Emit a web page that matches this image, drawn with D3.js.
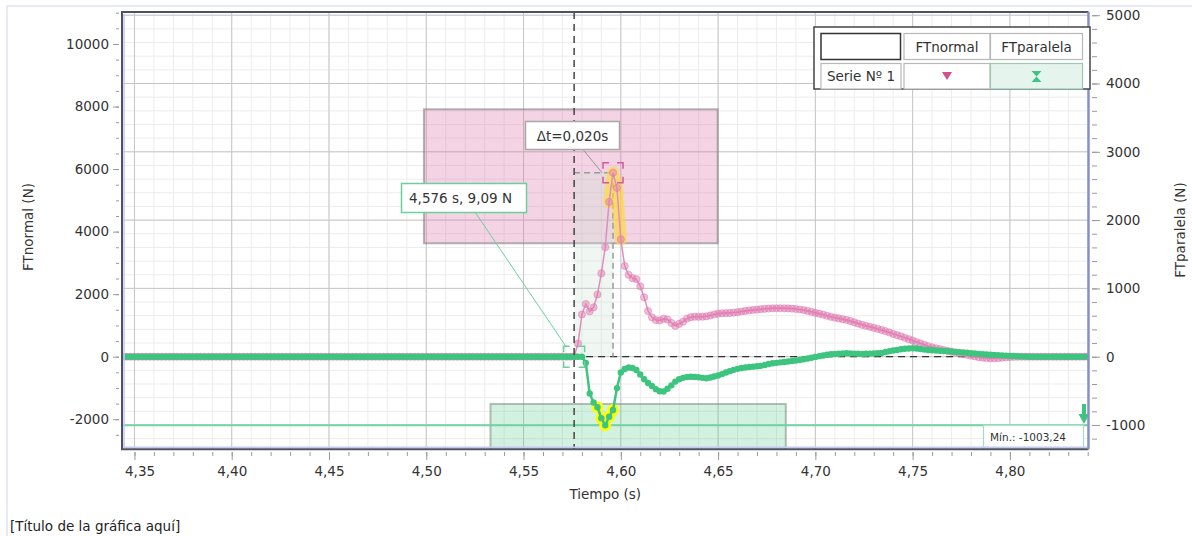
<!DOCTYPE html>
<html>
<head>
<meta charset="utf-8">
<script src="https://cdn.jsdelivr.net/npm/d3@7"></script>
<style>
  body { margin: 0; background: #fff; }
  svg { display: block; font-family: "DejaVu Sans", sans-serif; }
</style>
</head>
<body>
<script>
const W = 1192, H = 536;

// one sample every 2 ms, starting at 4,344 s
const sampleStart = 4.344;
const sampleStep = 0.002;

// FTnormal (N), left axis
const ftNormal = [
  0,0,0,0,0,0,0,0,0,0,0,0,0,0,0,0,0,0,0,0,
  0,0,0,0,0,0,0,0,0,0,0,0,0,0,0,0,0,0,0,0,
  0,0,0,0,0,0,0,0,0,0,0,0,0,0,0,0,0,0,0,0,
  0,0,0,0,0,0,0,0,0,0,0,0,0,0,0,0,0,0,0,0,
  0,0,0,0,0,0,0,0,0,0,0,0,0,0,0,0,0,0,0,0,
  0,0,0,0,0,0,0,0,0,0,0,0,0,0,0,0,
  9.09, 420, 1350, 1685, 1450, 1580, 1990, 2667, 3500, 4950,
  5884, 5400, 3754, 2900, 2620, 2510, 2480, 2250, 1900, 1460,
  1260, 1170, 1160, 1215, 1190, 1080, 985, 1050, 1120, 1220,
  1265, 1280, 1275, 1280, 1290, 1320, 1350, 1380, 1390, 1395,
  1400, 1410, 1425, 1445, 1465, 1480, 1495, 1505, 1520, 1530,
  1540, 1548, 1550, 1550, 1548, 1545, 1538, 1525, 1510, 1490,
  1465, 1435, 1405, 1375, 1345, 1310, 1275, 1250, 1225, 1200,
  1175, 1140, 1100, 1060, 1020, 990, 955, 925, 890, 855,
  815, 775, 730, 690, 650, 605, 560, 515, 470, 425,
  380, 335, 300, 270, 240, 210, 185, 160, 135, 110,
  86, 60, 35, 10, -15, -30, -42, -50, -50, -45,
  -32, -19, -10, -4,
  0,0,0,0,0,0,0,0,0,0,0,0,0,0,0,0,0,0,0
];

// FTparalela (N), right axis
const ftParalela = [
  0,0,0,0,0,0,0,0,0,0,0,0,0,0,0,0,0,0,0,0,
  0,0,0,0,0,0,0,0,0,0,0,0,0,0,0,0,0,0,0,0,
  0,0,0,0,0,0,0,0,0,0,0,0,0,0,0,0,0,0,0,0,
  0,0,0,0,0,0,0,0,0,0,0,0,0,0,0,0,0,0,0,0,
  0,0,0,0,0,0,0,0,0,0,0,0,0,0,0,0,0,0,0,0,
  0,0,0,0,0,0,0,0,0,0,0,0,0,0,0,0,0,0,0,
  -90, -540, -670, -740, -900, -1003.24, -880, -780, -460, -230,
  -180, -158, -165, -195, -260, -330, -385, -430, -475, -505,
  -510, -470, -420, -365, -330, -310, -298, -293, -296, -302,
  -310, -316, -305, -290, -275, -255, -232, -212, -193, -178,
  -166, -158, -152, -146, -140, -135, -122, -108, -97, -90,
  -83, -77, -70, -62, -55, -48, -37, -26, -15, -3,
  8, 18, 28, 36, 40, 42, 46, 50, 48, 45,
  42, 40, 42, 45, 48, 50, 55, 68, 80, 90,
  98, 108, 116, 121, 123, 120, 112, 104, 99, 95,
  91, 87, 84, 80, 75, 70, 66, 62, 57, 52,
  46, 41, 37, 33, 29, 26, 23, 19, 15, 12,
  10, 7, 4, 2,
  0,0,0,0,0,0,0,0,0,0,0,0,0,0,0,0
];

const xTicks = [4.35, 4.40, 4.45, 4.50, 4.55, 4.60, 4.65, 4.70, 4.75, 4.80];
const leftTicks = [-2000, 0, 2000, 4000, 6000, 8000, 10000];
const rightTicks = [-1000, 0, 1000, 2000, 3000, 4000, 5000];

const cursorT = 4.576, cursorV = 9.09;
const deltaEndT = 4.596;
const minParalela = -1003.24;
const selNormalT = [4.4988, 4.6498], selNormalV = [3627, 7912];
const selParalelaT = [4.533, 4.6848], selParalelaV = [-1400, -692];

const seriesNames = ["FTnormal", "FTparalela"];

const time = ftNormal.map((_, i) => sampleStart + i * sampleStep);
const normalPts = time.map((t, i) => ({t: t, v: ftNormal[i]}));
const paralelaPts = time.map((t, i) => ({t: t, v: ftParalela[i]}));

const plot = {left: 122, right: 1088.5, top: 12, bottom: 449.3};

const x = d3.scaleLinear().domain([4.3436, 4.8404]).range([plot.left, plot.right]);
const yL = d3.scaleLinear().domain([-2961, 11023]).range([plot.bottom, plot.top]);
const yR = d3.scaleLinear().domain([-1356, 5047]).range([plot.bottom, plot.top]);

// Spanish style numbers: decimal comma, plain hyphen minus
const fmt = p => d => d3.format(p)(d).replace(".", ",").replace("\u2212", "-");
const comma = fmt(".2f");

const svg = d3.select("body").append("svg")
  .attr("width", W)
  .attr("height", H);

// faint outer frame
svg.append("path")
  .attr("d", "M7,536 V6 H1192")
  .attr("fill", "none")
  .attr("stroke", "#dfe2f6")
  .attr("stroke-width", 1.5);

svg.append("defs").append("clipPath").attr("id", "clip")
  .append("rect")
  .attr("x", plot.left).attr("y", plot.top)
  .attr("width", plot.right - plot.left).attr("height", plot.bottom - plot.top);

const pg = svg.append("g").attr("clip-path", "url(#clip)");

pg.append("rect")
  .attr("x", plot.left).attr("y", plot.top)
  .attr("width", plot.right - plot.left).attr("height", plot.bottom - plot.top)
  .attr("fill", "#fff");

// grid
const vMinor = d3.range(435, 485, 1).map(d => d / 100);
const hMinor = d3.range(-1200, 5100, 200);
pg.selectAll(".vmin").data(vMinor).enter().append("line")
  .attr("x1", d => x(d)).attr("x2", d => x(d))
  .attr("y1", plot.top).attr("y2", plot.bottom)
  .attr("stroke", "#ececec").attr("stroke-width", 1);
pg.selectAll(".hmin").data(hMinor).enter().append("line")
  .attr("x1", plot.left).attr("x2", plot.right)
  .attr("y1", d => yR(d)).attr("y2", d => yR(d))
  .attr("stroke", "#ececec").attr("stroke-width", 1);
pg.selectAll(".vmaj").data(xTicks).enter().append("line")
  .attr("x1", d => x(d)).attr("x2", d => x(d))
  .attr("y1", plot.top).attr("y2", plot.bottom)
  .attr("stroke", "#c6c6c6").attr("stroke-width", 1);
pg.selectAll(".hmaj").data(rightTicks).enter().append("line")
  .attr("x1", plot.left).attr("x2", plot.right)
  .attr("y1", d => yR(d)).attr("y2", d => yR(d))
  .attr("stroke", "#c6c6c6").attr("stroke-width", 1);

// selection boxes
pg.append("rect")
  .attr("x", x(selNormalT[0])).attr("y", yL(selNormalV[1]))
  .attr("width", x(selNormalT[1]) - x(selNormalT[0]))
  .attr("height", yL(selNormalV[0]) - yL(selNormalV[1]))
  .attr("fill", "rgba(214,110,165,0.30)")
  .attr("stroke", "rgba(120,120,120,0.55)").attr("stroke-width", 2);
pg.append("rect")
  .attr("x", x(selParalelaT[0])).attr("y", yR(selParalelaV[1]))
  .attr("width", x(selParalelaT[1]) - x(selParalelaT[0]))
  .attr("height", yR(selParalelaV[0]) - yR(selParalelaV[1]))
  .attr("fill", "rgba(70,195,130,0.24)")
  .attr("stroke", "rgba(120,140,125,0.55)").attr("stroke-width", 2);

// delta-t band
pg.append("rect")
  .attr("x", x(cursorT)).attr("y", yL(5884))
  .attr("width", x(deltaEndT) - x(cursorT))
  .attr("height", yL(0) - yL(5884))
  .attr("fill", "rgba(200,225,210,0.28)");

// min line
pg.append("line")
  .attr("x1", plot.left).attr("x2", plot.right)
  .attr("y1", yR(minParalela)).attr("y2", yR(minParalela))
  .attr("stroke", "#72d4a2").attr("stroke-width", 2);

// dashed measuring lines
pg.append("line")
  .attr("x1", x(cursorT)).attr("x2", x(4.79))
  .attr("y1", yL(0)).attr("y2", yL(0))
  .attr("stroke", "#333").attr("stroke-width", 1.3)
  .attr("stroke-dasharray", "7,5");
pg.append("line")
  .attr("x1", x(deltaEndT)).attr("x2", x(deltaEndT))
  .attr("y1", yL(5884)).attr("y2", yL(0))
  .attr("stroke", "#9a9a9a").attr("stroke-width", 1.5)
  .attr("stroke-dasharray", "6,4");
pg.append("line")
  .attr("x1", x(cursorT)).attr("x2", x(4.5953))
  .attr("y1", yL(5884)).attr("y2", yL(5884))
  .attr("stroke", "#9a9a9a").attr("stroke-width", 1.5)
  .attr("stroke-dasharray", "6,4");

// FTnormal
const inNormalSel = d => d.t >= selNormalT[0] && d.t <= selNormalT[1] && d.v >= selNormalV[0] && d.v <= selNormalV[1];
const selN = normalPts.filter(inNormalSel);
pg.append("path")
  .datum(selN)
  .attr("d", d3.line().x(d => x(d.t)).y(d => yL(d.v)))
  .attr("fill", "none")
  .attr("stroke", "rgba(255,222,40,0.6)")
  .attr("stroke-width", 12)
  .attr("stroke-linecap", "round")
  .attr("stroke-linejoin", "round");

pg.append("path")
  .datum(normalPts)
  .attr("d", d3.line().x(d => x(d.t)).y(d => yL(d.v)))
  .attr("fill", "none")
  .attr("stroke", "#e28dbb")
  .attr("stroke-width", 1.5);
pg.selectAll(".pn").data(normalPts).enter().append("circle")
  .attr("cx", d => x(d.t)).attr("cy", d => yL(d.v))
  .attr("r", 3.6)
  .attr("fill", "rgba(226,125,180,0.5)")
  .attr("stroke", "rgba(218,110,168,0.55)")
  .attr("stroke-width", 0.8);

// FTparalela
const inParSel = d => d.t >= selParalelaT[0] && d.t <= selParalelaT[1] && d.v >= selParalelaV[0] && d.v <= selParalelaV[1];
pg.selectAll(".py").data(paralelaPts.filter(inParSel)).enter().append("circle")
  .attr("cx", d => x(d.t)).attr("cy", d => yR(d.v))
  .attr("r", 6)
  .attr("fill", "#ffff00");

pg.append("path")
  .datum(paralelaPts)
  .attr("d", d3.line().x(d => x(d.t)).y(d => yR(d.v)))
  .attr("fill", "none")
  .attr("stroke", "#3dc47f")
  .attr("stroke-width", 2.5);
pg.selectAll(".pp").data(paralelaPts).enter().append("circle")
  .attr("cx", d => x(d.t)).attr("cy", d => yR(d.v))
  .attr("r", 3.2)
  .attr("fill", "#3dc47f");

// cursor vertical
pg.append("line")
  .attr("x1", x(cursorT)).attr("x2", x(cursorT))
  .attr("y1", plot.top).attr("y2", plot.bottom)
  .attr("stroke", "#444").attr("stroke-width", 1.5)
  .attr("stroke-dasharray", "7,5");

// corner brackets
function bracket(cx, cy, s, color) {
  const h = s / 2, k = 6;
  const p = [
    [cx - h, cy - h + k, cx - h, cy - h, cx - h + k, cy - h],
    [cx + h - k, cy - h, cx + h, cy - h, cx + h, cy - h + k],
    [cx - h, cy + h - k, cx - h, cy + h, cx - h + k, cy + h],
    [cx + h - k, cy + h, cx + h, cy + h, cx + h, cy + h - k]
  ];
  p.forEach(q => {
    svg.append("path")
      .attr("d", `M${q[0]},${q[1]}L${q[2]},${q[3]}L${q[4]},${q[5]}`)
      .attr("fill", "none").attr("stroke", color).attr("stroke-width", 1.5);
  });
}
bracket(x(cursorT), yL(0), 21, "#6ad19c");
bracket(x(deltaEndT), yL(5884), 20, "#d8589c");

// annotation: cursor value
svg.append("line")
  .attr("x1", 475).attr("y1", 212)
  .attr("x2", x(cursorT) - 8).attr("y2", yL(0) - 10)
  .attr("stroke", "#6ad19c").attr("stroke-width", 1);
svg.append("rect")
  .attr("x", 401.5).attr("y", 183.5).attr("width", 125).attr("height", 29)
  .attr("fill", "#fff").attr("stroke", "#6ad19c").attr("stroke-width", 1.5);
svg.append("text")
  .attr("x", 409).attr("y", 203)
  .attr("font-size", 13.5).attr("fill", "#333")
  .text(fmt(".3f")(cursorT) + " s, " + comma(cursorV) + " N");

// annotation: delta t
svg.append("line")
  .attr("x1", 583).attr("y1", 149.5)
  .attr("x2", x(deltaEndT) - 11).attr("y2", yL(5884))
  .attr("stroke", "#999").attr("stroke-width", 1);
svg.append("rect")
  .attr("x", 525.5).attr("y", 121.5).attr("width", 94).attr("height", 28)
  .attr("fill", "#fff").attr("stroke", "#a8a8a8").attr("stroke-width", 1.5);
svg.append("text")
  .attr("x", 572.5).attr("y", 140.5)
  .attr("text-anchor", "middle")
  .attr("font-size", 13.5).attr("fill", "#333")
  .text("Δt=" + fmt(".3f")(deltaEndT - cursorT) + "s");

// min label box
svg.append("rect")
  .attr("x", 983.5).attr("y", yR(minParalela)).attr("width", 100)
  .attr("height", plot.bottom - yR(minParalela))
  .attr("fill", "#fff").attr("stroke", "#9fe0bf").attr("stroke-width", 1.2);
svg.append("text")
  .attr("x", 990).attr("y", 441)
  .attr("font-size", 10.5).attr("fill", "#333")
  .text("Mín.: " + comma(minParalela));
svg.append("line")
  .attr("x1", 1084).attr("x2", 1084).attr("y1", 404).attr("y2", 415)
  .attr("stroke", "#3dc47f").attr("stroke-width", 4);
svg.append("path")
  .attr("d", "M1078.5,414 L1089.5,414 L1084,424 Z")
  .attr("fill", "#3dc47f");

// plot border
svg.append("path")
  .attr("d", `M${plot.right},${plot.top} H${plot.left} V${plot.bottom} H${plot.right}`)
  .attr("fill", "none").attr("stroke", "#4f5266").attr("stroke-width", 2);
svg.append("path")
  .attr("d", `M${plot.left + 2},${plot.top + 2} V${plot.bottom - 2} H${plot.right}`)
  .attr("fill", "none").attr("stroke", "#c3c9ee").attr("stroke-width", 1.5);
svg.append("line")
  .attr("x1", plot.right).attr("x2", plot.right)
  .attr("y1", plot.top).attr("y2", plot.bottom)
  .attr("stroke", "#8890c4").attr("stroke-width", 2.5);

// axes
function styleAxis(g) {
  g.select(".domain").remove();
  g.selectAll(".tick line").attr("stroke", "#9a9a9a");
  g.selectAll(".tick text").attr("fill", "#333").attr("font-size", 13.5)
    .attr("font-family", "DejaVu Sans, sans-serif");
}

svg.append("g").attr("transform", "translate(119,0)")
  .call(d3.axisLeft(yL).tickValues(d3.range(-2500, 11001, 500)).tickSize(3).tickFormat(""))
  .call(styleAxis);
svg.append("g").attr("transform", "translate(119,0)")
  .call(d3.axisLeft(yL).tickValues(leftTicks).tickSize(6).tickPadding(4).tickFormat(fmt("d")))
  .call(styleAxis);

svg.append("g").attr("transform", "translate(1092,0)")
  .call(d3.axisRight(yR).tickValues(d3.range(-1200, 5001, 200)).tickSize(5).tickFormat(""))
  .call(styleAxis);
svg.append("g").attr("transform", "translate(1092,0)")
  .call(d3.axisRight(yR).tickValues(rightTicks).tickSize(8).tickPadding(6).tickFormat(fmt("d")))
  .call(styleAxis);

svg.append("g").attr("transform", "translate(0,452)")
  .call(d3.axisBottom(x).tickValues(vMinor).tickSize(4).tickFormat(""))
  .call(styleAxis);
const xAxisG = svg.append("g").attr("transform", "translate(0,452)")
  .call(d3.axisBottom(x).tickValues(xTicks).tickSize(8).tickPadding(6).tickFormat(comma))
  .call(styleAxis);
// keep first label inside the plot edge
xAxisG.selectAll(".tick text").each(function() {
  const b = this.getBBox();
  const tx = +this.parentNode.getAttribute("transform").match(/translate\(([^,]+)/)[1];
  if (tx + b.x < plot.left + 3) d3.select(this).attr("x", plot.left + 3 - tx - b.x);
});

svg.append("text")
  .attr("transform", "translate(33,227) rotate(-90)")
  .attr("text-anchor", "middle")
  .attr("font-size", 13.5).attr("fill", "#333")
  .text("FTnormal (N)");
svg.append("text")
  .attr("transform", "translate(1185,230) rotate(-90)")
  .attr("text-anchor", "middle")
  .attr("font-size", 13.5).attr("fill", "#333")
  .text("FTparalela (N)");
svg.append("text")
  .attr("x", (plot.left + plot.right) / 2).attr("y", 499)
  .attr("text-anchor", "middle")
  .attr("font-size", 13.5).attr("fill", "#333")
  .text("Tiempo (s)");
svg.append("text")
  .attr("x", 10).attr("y", 531)
  .attr("font-size", 13.5).attr("fill", "#222")
  .text("[Título de la gráfica aquí]");

// legend table
const lg = svg.append("g").attr("transform", "translate(814,27)");
lg.append("rect").attr("x", 0).attr("y", 0).attr("width", 276).attr("height", 62)
  .attr("fill", "#fff").attr("stroke", "#444").attr("stroke-width", 1.5);
lg.append("rect").attr("x", 7).attr("y", 6.5).attr("width", 79.5).attr("height", 26)
  .attr("fill", "#fff").attr("stroke", "#333").attr("stroke-width", 1.5);
const cols = [{x: 90, w: 86}, {x: 176.5, w: 92}];
cols.forEach((c, i) => {
  lg.append("rect").attr("x", c.x).attr("y", 6.5).attr("width", c.w).attr("height", 26)
    .attr("fill", "#fff").attr("stroke", "#b8b8b8").attr("stroke-width", 1.2);
  lg.append("text").attr("x", c.x + c.w / 2).attr("y", 25)
    .attr("text-anchor", "middle").attr("font-size", 13.5).attr("fill", "#333")
    .text(seriesNames[i]);
  lg.append("rect").attr("x", c.x).attr("y", 36.5).attr("width", c.w).attr("height", 25.5)
    .attr("fill", i === 1 ? "#e5f5ee" : "#fff")
    .attr("stroke", i === 1 ? "#9cc9b1" : "#b8b8b8").attr("stroke-width", 1.2);
});
lg.append("rect").attr("x", 7).attr("y", 36.5).attr("width", 80).attr("height", 25.5)
  .attr("fill", "#fff").attr("stroke", "#b8b8b8").attr("stroke-width", 1.2);
lg.append("text").attr("x", 47).attr("y", 54)
  .attr("text-anchor", "middle").attr("font-size", 13.5).attr("fill", "#333")
  .text("Serie Nº 1");
lg.append("path").attr("d", "M128,45 L138,45 L133,53 Z").attr("fill", "#d0508f");
lg.append("path").attr("d", "M217.5,44 L227.5,44 L222.5,49.5 L227.5,55 L217.5,55 L222.5,49.5 Z")
  .attr("fill", "#3dc47f");
</script>
</body>
</html>
